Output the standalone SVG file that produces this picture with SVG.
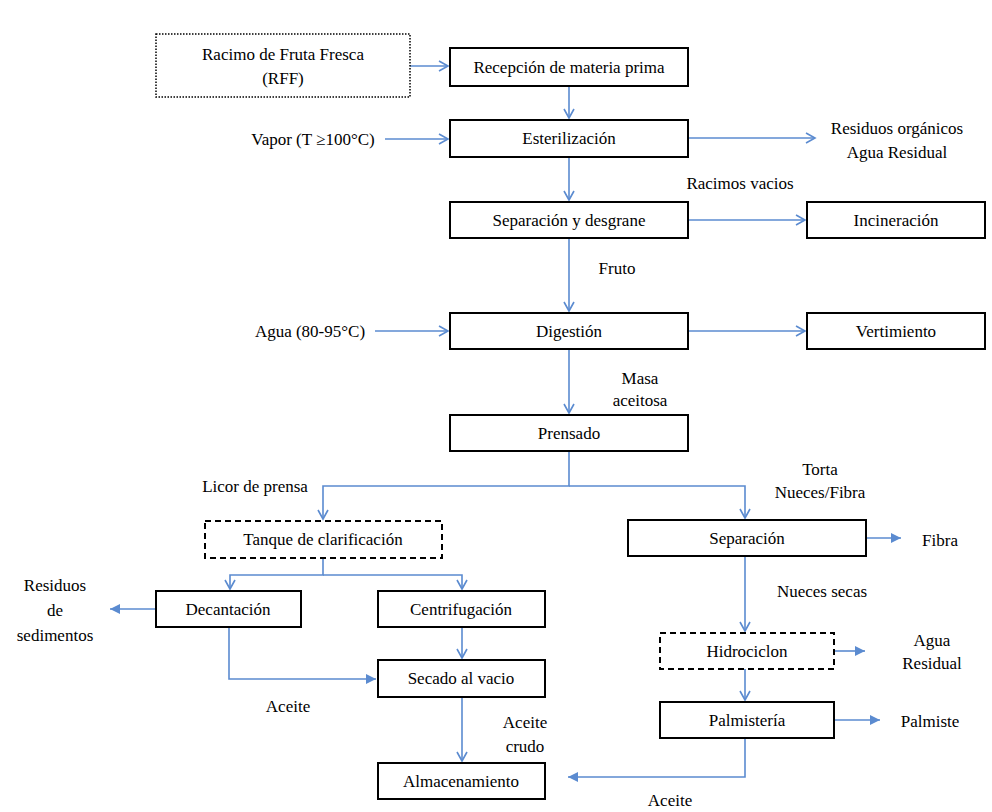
<svg xmlns="http://www.w3.org/2000/svg" width="992" height="812" viewBox="0 0 992 812">
<style>
.b{fill:#fff;stroke:#000;stroke-width:2}
.dot{fill:#fff;stroke:#000;stroke-width:1.5;stroke-dasharray:1.5 1.5}
.dash{fill:#fff;stroke:#000;stroke-width:2;stroke-dasharray:6 4}
text{font-family:"Liberation Serif","Times New Roman",serif;font-size:17px;fill:#000;text-anchor:middle}
.c path{fill:none;stroke:#5b8bd0;stroke-width:1.6}
</style>
<defs>
<marker id="o" markerWidth="12" markerHeight="12" refX="10" refY="6" orient="auto" markerUnits="userSpaceOnUse"><path d="M1,1 L10,6 L1,11" fill="none" stroke="#5b8bd0" stroke-width="1.6"/></marker>
<marker id="f" markerWidth="12" markerHeight="12" refX="10" refY="6" orient="auto" markerUnits="userSpaceOnUse"><path d="M0,1 L10,6 L0,11 Z" fill="#5b8bd0"/></marker>
</defs>
<rect width="992" height="812" fill="#fff"/>
<g class="c">
<path d="M410,66 H448" marker-end="url(#o)"/>
<path d="M569,86 V118" marker-end="url(#o)"/>
<path d="M385,139 H448" marker-end="url(#o)"/>
<path d="M688,138 H815" marker-end="url(#o)"/>
<path d="M569,157 V200" marker-end="url(#o)"/>
<path d="M688,220 H805" marker-end="url(#o)"/>
<path d="M569,238 V311" marker-end="url(#o)"/>
<path d="M375,331 H448" marker-end="url(#o)"/>
<path d="M688,331 H805" marker-end="url(#o)"/>
<path d="M569,349 V413" marker-end="url(#o)"/>
<path d="M569,451 V486 H323 V519" marker-end="url(#o)"/>
<path d="M569,486 H745 V518" marker-end="url(#o)"/>
<path d="M866,538 H901" marker-end="url(#f)"/>
<path d="M745,556 V631" marker-end="url(#o)"/>
<path d="M834,651 H865" marker-end="url(#f)"/>
<path d="M745,669 V700" marker-end="url(#o)"/>
<path d="M834,720 H880" marker-end="url(#f)"/>
<path d="M745,738 V777 H568" marker-end="url(#f)"/>
<path d="M323,558 V575 H230 V589" marker-end="url(#o)"/>
<path d="M323,575 H462 V589" marker-end="url(#o)"/>
<path d="M156,609 H110" marker-end="url(#f)"/>
<path d="M229,627 V679 H376" marker-end="url(#f)"/>
<path d="M462,627 V658" marker-end="url(#o)"/>
<path d="M462,697 V761" marker-end="url(#o)"/>
</g>
<g id="rff"><rect class="dot" x="156" y="34" width="254" height="63"/><text x="283" y="60">Racimo de Fruta Fresca</text><text x="283" y="84">(RFF)</text></g>
<g id="recepcion"><rect class="b" x="450" y="48" width="238" height="38"/><text x="569" y="73">Recepción de materia prima</text></g>
<g id="vapor"><text x="313" y="145">Vapor (T ≥100°C)</text></g>
<g id="esterilizacion"><rect class="b" x="450" y="120" width="238" height="37"/><text x="569" y="144">Esterilización</text></g>
<g id="residuos-org"><text x="897" y="134">Residuos orgánicos</text><text x="897" y="158">Agua Residual</text></g>
<g id="separacion-desgrane"><rect class="b" x="450" y="202" width="238" height="36"/><text x="569" y="226">Separación y desgrane</text></g>
<g id="incineracion"><rect class="b" x="807" y="202" width="178" height="36"/><text x="896" y="226">Incineración</text></g>
<g id="agua"><text x="310" y="337">Agua (80-95°C)</text></g>
<g id="digestion"><rect class="b" x="450" y="313" width="238" height="36"/><text x="569" y="337">Digestión</text></g>
<g id="vertimiento"><rect class="b" x="807" y="313" width="178" height="36"/><text x="896" y="337">Vertimiento</text></g>
<g id="prensado"><rect class="b" x="450" y="415" width="238" height="36"/><text x="569" y="439">Prensado</text></g>
<g id="tanque"><rect class="dash" x="205" y="521" width="237" height="37"/><text x="323" y="545">Tanque de clarificación</text></g>
<g id="separacion"><rect class="b" x="628" y="520" width="238" height="36"/><text x="747" y="544">Separación</text></g>
<g id="fibra"><text x="940" y="546">Fibra</text></g>
<g id="decantacion"><rect class="b" x="156" y="591" width="145" height="36"/><text x="228" y="615">Decantación</text></g>
<g id="residuos-sed"><text x="55" y="591">Residuos</text><text x="55" y="616">de</text><text x="55" y="641">sedimentos</text></g>
<g id="centrifugacion"><rect class="b" x="378" y="591" width="167" height="36"/><text x="461" y="615">Centrifugación</text></g>
<g id="secado"><rect class="b" x="378" y="660" width="167" height="37"/><text x="461" y="684">Secado al vacio</text></g>
<g id="almacenamiento"><rect class="b" x="378" y="763" width="167" height="36"/><text x="461" y="787">Almacenamiento</text></g>
<g id="hidrociclon"><rect class="dash" x="660" y="633" width="174" height="36"/><text x="747" y="657">Hidrociclon</text></g>
<g id="agua-residual"><text x="932" y="646">Agua</text><text x="932" y="669">Residual</text></g>
<g id="palmisteria"><rect class="b" x="660" y="702" width="174" height="36"/><text x="747" y="726">Palmistería</text></g>
<g id="palmiste"><text x="930" y="727">Palmiste</text></g>
<g id="labels">
<text x="740" y="189">Racimos vacios</text>
<text x="617" y="274">Fruto</text>
<text x="640" y="384">Masa</text>
<text x="640" y="406">aceitosa</text>
<text x="255" y="492">Licor de prensa</text>
<text x="820" y="475">Torta</text>
<text x="820" y="498">Nueces/Fibra</text>
<text x="822" y="597">Nueces secas</text>
<text x="288" y="712">Aceite</text>
<text x="525" y="728">Aceite</text>
<text x="525" y="752">crudo</text>
<text x="670" y="806">Aceite</text>
</g>
</svg>
